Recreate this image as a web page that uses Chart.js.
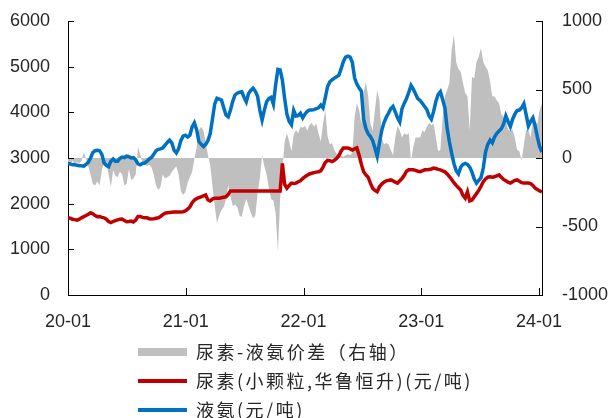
<!DOCTYPE html>
<html>
<head>
<meta charset="utf-8">
<script src="https://cdn.jsdelivr.net/npm/chart.js@4.4.1/dist/chart.umd.min.js"></script>
<style>
  body { margin: 0; background: #fff; }
</style>
</head>
<body>
<canvas id="chart" width="611" height="418"></canvas>
<script>
'use strict'

// weekly data from 2020-01, x-axis in months
const xLabels = ['20-01', '21-01', '22-01', '23-01', '24-01']

const spread = [
  -30, -40, -20, -50, -30, -40, -20, 40, -10, -60,
  -120, -190, -200, -170, -200, -90, -30, -40, -120, -210,
  -90, -130, -140, -100, -120, -200, -190, -80, -160, -150,
  -120, 80, 30, -40, -20, -60, -50, -70, -120, -200,
  -235, -210, -120, -150, -140, -130, -100, -80, -60, -120,
  -240, -270, -250, -180, -140, -100, -10, 80, 200, 230,
  200, 120, 20, -50, -200, -350, -475, -420, -380, -360,
  -300, -200, -280, -350, -340, -360, -420, -430, -350, -300,
  -350, -400, -440, -420, -260, -150, 20, -60, -120, -220,
  -300, -310, -400, -684, -300, -90, 120, 180, 120, 50,
  170, 205, 180, 230, 220, 235, 200, 240, 255, 230,
  250, 180, 120, 250, 350, 160, 100, 110, 60, 30,
  20, 20, 10, 20, 30, 20, 40, 300, 400, 350,
  250, 480, 557, 450, 250, 200, 350, 496, 420, 150,
  100, 110, 100, 60, 20, 150, 235, 200, 150, 180,
  170, 180, -20, 80, 150, 150, 150, 200, 190, 230,
  255, 240, 250, 150, 50, 60, 300, 450, 496, 550,
  790, 900, 700, 650, 630, 550, 475, 450, 200, 593,
  580, 700, 740, 803, 700, 666, 640, 560, 450, 448,
  420, 400, 320, 300, 280, 205, 200, 205, 150, 60,
  50, -20, 100, 205, 200, 150, 275, 270, 250, 350,
  400
]

const urea = [
  1690, 1680, 1660, 1650, 1640, 1660, 1690, 1715, 1740, 1770,
  1800, 1780, 1740, 1715, 1720, 1700, 1690, 1660, 1610, 1585,
  1610, 1630, 1645, 1660, 1665, 1630, 1605, 1610, 1620, 1600,
  1640, 1720, 1720, 1700, 1690, 1690, 1670, 1665, 1670, 1680,
  1690, 1720, 1760, 1790, 1800, 1805, 1810, 1815, 1815, 1820,
  1820, 1825, 1840, 1880, 1930, 2020, 2080, 2110, 2130, 2150,
  2170, 2190, 2080, 2060, 2100, 2120, 2120, 2120, 2130, 2140,
  2150, 2200, 2280, 2280, 2280, 2280, 2280, 2280, 2280, 2280,
  2280, 2280, 2280, 2280, 2280, 2280, 2280, 2280, 2280, 2280,
  2280, 2280, 2280, 2280, 2280, 2880, 2420, 2340, 2400, 2450,
  2440, 2450, 2480, 2500, 2550, 2590, 2620, 2650, 2665, 2680,
  2690, 2700, 2720, 2800, 2900, 2950, 2940, 2920, 2950, 2990,
  3050, 3150, 3220, 3220, 3220, 3200, 3175, 3200, 3220, 3060,
  2860, 2700, 2630, 2580, 2450, 2340, 2290, 2260, 2370, 2430,
  2470, 2500, 2510, 2520, 2500, 2470, 2450, 2500, 2550, 2620,
  2710, 2740, 2740, 2740, 2730, 2710, 2700, 2720, 2740, 2740,
  2750, 2760, 2780, 2770, 2750, 2740, 2720, 2700, 2650, 2590,
  2530, 2460, 2400, 2350, 2300, 2180, 2120, 2260, 2060, 2080,
  2150, 2220, 2290, 2380, 2480, 2540, 2580, 2590, 2580, 2590,
  2610, 2630, 2580, 2530, 2500, 2470, 2450, 2480, 2510, 2520,
  2490, 2460, 2450, 2450, 2450, 2440, 2400, 2340, 2310, 2280,
  2260
]

const ammonia = [
  2880, 2870, 2850, 2850, 2840, 2830, 2830, 2820, 2860, 2910,
  3000, 3120, 3160, 3170, 3160, 3080, 2890, 2840, 2810, 2930,
  2980, 2930, 2930, 2990, 3020, 3010, 3040, 3030, 3000, 3010,
  2960, 2870, 2850, 2880, 2890, 2930, 2980, 3010, 3080, 3160,
  3190, 3200, 3220, 3280, 3340, 3390, 3330, 3170, 3110, 3200,
  3380, 3480, 3500, 3460, 3500, 3680, 3770, 3620, 3360, 3300,
  3250, 3300, 3380, 3530, 3850, 4180, 4310, 4290, 4270, 4100,
  3940, 3900, 4050, 4240, 4380, 4420, 4440, 4450, 4330, 4230,
  4410, 4480, 4530, 4460, 4350, 4050, 3830, 4050, 4230, 4300,
  4330, 4180, 4600, 4940, 4930, 4700, 4300, 3960, 3800, 3730,
  4040, 3920, 3930, 3980, 3880, 3960, 4020, 4050, 4050, 4060,
  4080, 4100, 4160, 4100, 4320, 4560, 4670, 4710, 4750, 4780,
  4810, 4950, 5110, 5210, 5230, 5210, 5090, 4750, 4620, 4530,
  4460, 3850, 3640, 3530, 3470, 3380, 3220, 3040, 3330, 3600,
  3770, 3890, 3980, 4080, 4130, 4010, 3880, 3790, 4080, 4200,
  4300, 4440, 4590, 4510, 4400, 4300, 4260, 4200, 4130, 4060,
  3920, 3850, 4020, 4240, 4390, 4450, 4280, 4100, 3650, 3350,
  3100, 2880, 2720, 2650, 2800, 2860, 2880, 2860, 2800, 2690,
  2540, 2450, 2510, 2570, 2780, 3130, 3300, 3390, 3330, 3460,
  3540, 3590, 3640, 3740, 3920, 3800, 3690, 3850, 3960, 4040,
  4050, 4100, 4190, 3950, 3700, 3800, 3880, 3700, 3450, 3250,
  3130
]

const weeksPerMonth = 52.18 / 12
const toPoints = arr => arr.map((v, i) => ({ x: i / weeksPerMonth, y: v }))

const ctx = document.getElementById('chart')

Chart.defaults.font.family = '"Liberation Sans", Arial, sans-serif'
Chart.defaults.font.size = 18
Chart.defaults.color = '#262626'

// inner tick marks + vertical legend
const extras = {
  id: 'extras',
  afterDraw(chart) {
    const c = chart.ctx
    const { left, right, bottom } = chart.chartArea
    const sy = chart.scales.y, sy1 = chart.scales.y1, sx = chart.scales.x
    c.save()
    c.strokeStyle = '#000'
    c.lineWidth = 1
    c.beginPath()
    sy.ticks.forEach(t => {
      const y = Math.round(sy.getPixelForValue(t.value)) + 0.5
      c.moveTo(left, y); c.lineTo(left + 6, y)
    })
    sy1.ticks.forEach(t => {
      const y = Math.round(sy1.getPixelForValue(t.value)) + 0.5
      c.moveTo(right - 6, y); c.lineTo(right, y)
    })
    sx.ticks.forEach(t => {
      const x = Math.round(sx.getPixelForValue(t.value)) + 0.5
      c.moveTo(x, bottom); c.lineTo(x, bottom - 7)
    })
    c.stroke()

    c.font = '18px "Noto Sans CJK SC"'
    c.letterSpacing = '2.5px'
    c.textBaseline = 'middle'
    chart.data.datasets.forEach((ds, k) => {
      const y = 352 + k * 29
      if (ds.fill) {
        c.fillStyle = ds.backgroundColor
        c.fillRect(138, y - 4, 49, 8)
      } else {
        c.fillStyle = ds.borderColor
        c.fillRect(138, y - 2, 49, 4)
      }
      c.fillStyle = '#262626'
      c.fillText(ds.label, 196, y)
    })
    c.restore()
  }
}

// fixed axis sizes so the plot area matches
const fixY = w => s => { s.width = w; s.paddingTop = 0; s.paddingBottom = 0 }

const data = {
  datasets: [{
    label: '尿素-液氨价差（右轴）',
    data: toPoints(spread),
    yAxisID: 'y1',
    fill: 'origin',
    backgroundColor: '#BFBFBF',
    borderWidth: 0,
    pointRadius: 0,
    order: 3
  }, {
    label: '尿素(小颗粒,华鲁恒升)(元/吨)',
    data: toPoints(urea),
    yAxisID: 'y',
    borderColor: '#C00000',
    borderWidth: 3.5,
    pointRadius: 0,
    fill: false,
    order: 2
  }, {
    label: '液氨(元/吨)',
    data: toPoints(ammonia),
    yAxisID: 'y',
    borderColor: '#0070C0',
    borderWidth: 3.5,
    pointRadius: 0,
    fill: false,
    order: 1
  }]
}

const options = {
  responsive: false,
  animation: false,
  layout: { padding: { top: 21, left: 0, right: 0, bottom: 0 } },
  plugins: { legend: { display: false }, tooltip: { enabled: false } },
  scales: {
    x: {
      type: 'linear',
      min: 0,
      max: 48.3,
      grid: { display: false, drawTicks: false, tickLength: 0 },
      border: { display: true, color: '#000', width: 1 },
      ticks: {
        stepSize: 12,
        includeBounds: false,
        padding: 16,
        maxRotation: 0,
        callback: v => xLabels[Math.round(v / 12)]
      },
      afterFit: s => { s.height = 123 }
    },
    y: {
      position: 'left',
      min: 0,
      max: 6000,
      grid: { display: false, drawTicks: false, tickLength: 0 },
      border: { display: true, color: '#000', width: 1 },
      ticks: { stepSize: 1000, padding: 18, callback: v => String(v) },
      afterFit: fixY(68)
    },
    y1: {
      position: 'right',
      min: -1000,
      max: 1000,
      grid: { display: false, drawTicks: false, tickLength: 0 },
      border: { display: true, color: '#000', width: 1 },
      ticks: { stepSize: 500, padding: 20, callback: v => String(v) },
      afterFit: fixY(69)
    }
  }
}

const chart = new Chart(ctx, {
  type: 'line',
  data: data,
  options: options,
  plugins: [extras]
})
</script>
</body>
</html>
